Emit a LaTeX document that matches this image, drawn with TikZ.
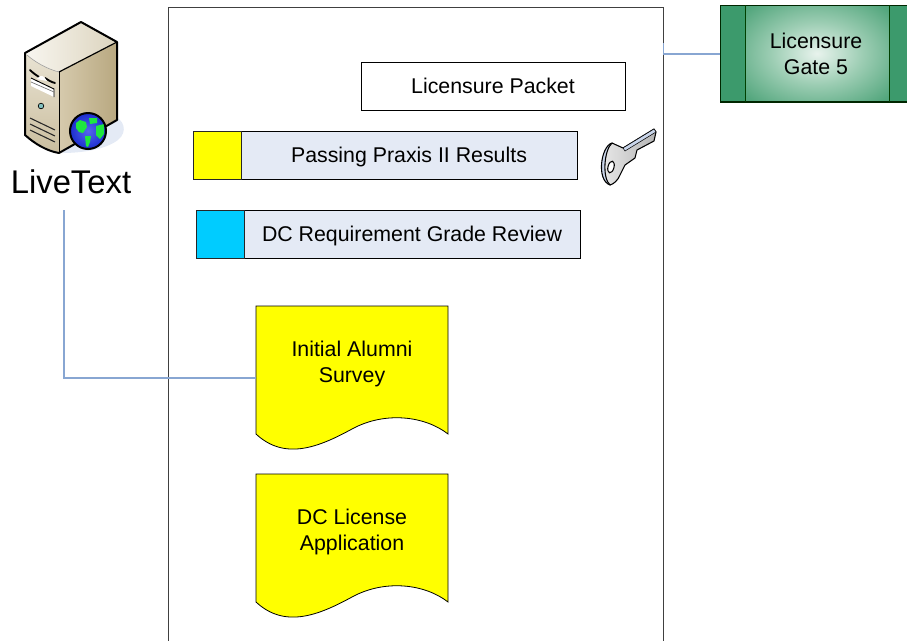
\documentclass[tikz,border=0pt]{standalone}
\usepackage{fontspec}
\setmainfont{Liberation Sans}
\usetikzlibrary{calc}
\definecolor{linkblue}{HTML}{88A6D2}
\definecolor{barfill}{HTML}{E4EAF5}
\definecolor{gategreen}{HTML}{3C9A6C}
\definecolor{gatemid}{HTML}{9CCDB3}
\definecolor{gatelight}{HTML}{E8F3ED}
\definecolor{docyellow}{HTML}{FFFF00}
\definecolor{cyanbox}{HTML}{00CCFF}
\definecolor{sideA}{HTML}{D6CAAD}
\definecolor{sideB}{HTML}{EDE7D9}
\definecolor{sideC}{HTML}{B8A880}
\definecolor{frontA}{HTML}{E9E3D3}
\definecolor{frontB}{HTML}{CABE9F}
\definecolor{topA}{HTML}{F8F6F0}
\definecolor{topB}{HTML}{DCD4BE}
\definecolor{keyrim}{HTML}{C9D5EA}
\definecolor{keyA}{HTML}{E8E8E8}
\definecolor{keyB}{HTML}{B4B4B4}
\definecolor{globeblue}{HTML}{1E32E6}
\definecolor{globegreen}{HTML}{1EE640}
\pgfdeclareradialshading{gateglow}{\pgfpointorigin}{color(0bp)=(gatelight); color(16bp)=(gatemid); color(33bp)=(gategreen!75!gatemid); color(45bp)=(gategreen); color(50bp)=(gategreen)}
\tikzset{
  x=0.75pt,y=-0.75pt,
  link/.style={draw=linkblue,line width=0.8pt},
  plainbox/.style={draw=black,fill=white,line width=0.7pt,rectangle,minimum width=0.75pt*#1,inner sep=0pt},
  label/.style={font=\fontsize{16}{19.5}\selectfont,align=center,text=black},
  barbody/.style={draw=black,fill=barfill,line width=0.7pt},
  swatch/.style={draw=black!85,line width=0.7pt},
  docshape/.style={draw=black,fill=docyellow,line width=0.6pt},
  continent/.style={fill=globegreen},
}
\newcommand{\docpath}[1]{%
  (256,#1) -- (448,#1) -- (448,#1+128)
  .. controls (425,#1+110) and (385,#1+105) .. (352,#1+123)
  .. controls (319,#1+141) and (285,#1+155) .. (256,#1+128) -- cycle}
\begin{document}
\begin{tikzpicture}
\useasboundingbox (0,0) rectangle (907,640);
% outer page
\path[clip] (0,0) rectangle (907,640);
\draw[draw=black!75,line width=0.7pt,fill=white] (168.7,7) rectangle (663.7,660);
\coordinate (pageedge) at (663.7,54);
\coordinate (pagetick) at (663.7,43);
% gate
\begin{scope}
  \clip (720,5) rectangle (908,102);
  \fill[gategreen] (720,5) rectangle (908,102);
  \shade[shading=gateglow] (745,5) rectangle (889,102);
\end{scope}
\draw[black!85!green,line width=0.8pt] (908,102) -- (720.5,102) -- (720.5,5.5) -- (908,5.5);
\draw[black!75!green,line width=0.7pt] (745,5) -- (745,102);
\draw[black!75!green,line width=0.7pt] (889,5) -- (889,102);
\node[label,inner sep=0pt] (gate) at (816,54) {Licensure\\Gate 5};
\coordinate (gateleft) at (720,54);
\draw[link] (gateleft) -- (pageedge) -- (pagetick);
% packet
\node[plainbox=264,minimum height=36pt,label] (packet) at (493,86) {Licensure Packet};
% praxis
\draw[barbody] (193,131.5) rectangle (577,179.5);
\draw[swatch,fill=docyellow] (193,131.5) rectangle (241,179.5);
\node[label] (praxis) at (409,156.5) {Passing Praxis II Results};
% dc
\draw[barbody] (196,210.5) rectangle (580,258.5);
\draw[swatch,fill=cyanbox] (196,210.5) rectangle (244,258.5);
\node[label] (review) at (412,235.5) {DC Requirement Grade Review};
% docs
\draw[docshape] \docpath{306};
\node[label] (alumni) at (352,363.5) {Initial Alumni\\Survey};
\draw[docshape] \docpath{474};
\node[label] (license) at (352,531.5) {DC License\\Application};
% livetext
\node[font=\fontsize{24.6}{28}\selectfont] (live) at (71,182) {LiveText};
\coordinate (livefoot) at (64,210);
\coordinate (alumnileft) at (256,378);
\draw[link] (livefoot) |- (alumnileft);
% server shadow
\fill[barfill] (110,115) .. controls (125,118) and (128,132) .. (118,140) .. controls (105,150) and (80,153) .. (62,153) -- cycle;
% server
\shade[left color=sideA,middle color=sideB,right color=sideC]
  (59,72) -- (117,42) -- (117,120) -- (59,152) -- cycle;
\shade[top color=frontA,bottom color=frontB]
  (25,53) .. controls (35,62) and (47,69) .. (59,72) -- (59,152) .. controls (47,150) and (35,143) .. (25,135) -- cycle;
\shade[left color=topA,right color=topB]
  (25,53) -- (81,22) -- (117,42) -- (59,72) .. controls (47,69) and (35,62) .. (25,53) -- cycle;
\draw[black,line width=1.5pt,line join=round] (25,53) -- (81,22) -- (117,42) -- (117,120) -- (59,153) .. controls (47,151) and (35,144) .. (25,135) -- cycle;
\draw[black,line width=0.9pt] (59,72) -- (117,42);
\draw[black,line width=0.7pt] (59,72) -- (59,153);
\draw[black!40,line width=0.4pt] (27,55) .. controls (35,62) and (47,69) .. (59,72);
\draw[black,line width=1.4pt,line cap=round] (30,70) .. controls (33,73) and (36,75) .. (39,77);
\draw[black,line width=1.4pt,line cap=round] (45,78) .. controls (48,80) and (51,82) .. (55,83);
\fill[white] (37,79) .. controls (40,74) and (44,75) .. (47,81) -- cycle;
\fill[white] (31,78) -- (54,89) -- (54,97) -- (31,86) -- cycle;
\draw[black,line width=0.7pt] (31,78) -- (54,89) -- (54,97);
\draw[black!55,line width=0.5pt] (31,82) -- (54,92);
\draw[fill=teal!50!white,line width=0.5pt] (41,106) circle (2.8);
\foreach \dy in {0,6,12}{\draw[black!85,line width=0.8pt] (30,118+\dy) -- (55,130+\dy);}
% globe
\shade[inner color=globeblue!75!white,outer color=globeblue!90!black] (88,131) circle (18);
\fill[continent] (76,123) -- (80,120) -- (86,122) -- (87,127) -- (83,133) -- (79,132) -- (76,128) -- cycle;
\fill[continent] (89,118) -- (97,118) -- (97,123) -- (90,124) -- cycle;
\fill[continent] (96,126) -- (104,124) -- (104,134) -- (100,139) -- (96,135) -- cycle;
\fill[continent] (85,136) -- (91,136) -- (90,142) -- (88,147) -- (86,146) -- cycle;
\draw[black,line width=1.5pt] (88,131) circle (18);
% key
\path[draw=black,line width=0.8pt,fill=keyrim,line join=round]
  (612,143) .. controls (601,146) and (596,180) .. (610,185) -- (616,180) -- (616,146) -- cycle;
\shade[left color=keyA,right color=keyB,draw=black,line width=0.8pt,line join=round]
  (612,143) -- (623,148) -- (654,129) -- (656,132) -- (654,141) -- (637,150) -- (635,158) -- (625,165) -- (620,175)
  .. controls (618,180) and (614,184) .. (610,185) .. controls (602,178) and (604,150) .. (612,143) -- cycle;
\path[fill=keyrim,draw=black,line width=0.4pt] (623,148) -- (654,129) -- (656,132) -- (625,151) -- cycle;
\draw[fill=white,line width=0.8pt,rotate around={-15:(611,167)}] (611,167) ellipse (3 and 6);
\end{tikzpicture}
\end{document}
